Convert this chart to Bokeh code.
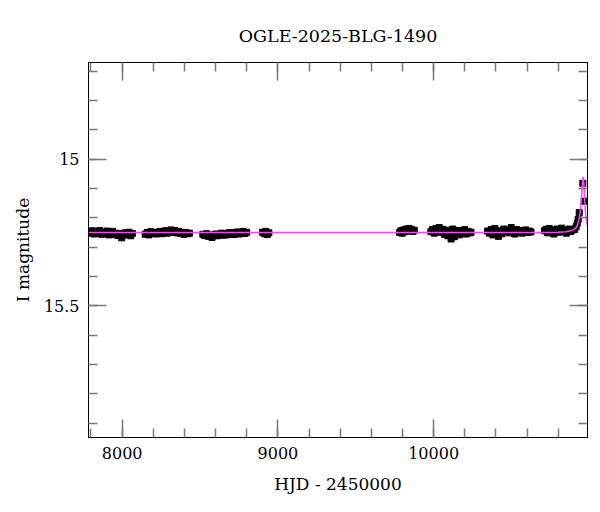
from bokeh.plotting import figure
from bokeh.models import Range1d, LinearAxis, SingleIntervalTicker, CustomJSTickFormatter
from bokeh.embed import file_html
from bokeh.resources import INLINE

title_text = "OGLE-2025-BLG-1490"
x_label = "HJD - 2450000"
y_label = "I magnitude"

# observations (HJD-2450000, I mag), by season
x1 = [7786, 7798, 7809, 7821, 7833, 7844, 7856, 7868, 7880, 7891, 7903, 7915, 7926, 7938, 7950, 7962, 7973, 7985, 7997, 8008, 8020, 8032, 8044, 8055, 8066]
y1 = [15.248, 15.252, 15.244, 15.255, 15.247, 15.251, 15.243, 15.256, 15.249, 15.253, 15.245, 15.258, 15.250, 15.246, 15.257, 15.252, 15.260, 15.254, 15.268, 15.259, 15.251, 15.256, 15.249, 15.261, 15.253]
x2 = [8148, 8160, 8172, 8183, 8195, 8207, 8219, 8231, 8243, 8254, 8266, 8278, 8290, 8302, 8314, 8325, 8337, 8349, 8361, 8373, 8385, 8396, 8408, 8420, 8432]
y2 = [15.256, 15.250, 15.258, 15.247, 15.253, 15.249, 15.255, 15.251, 15.246, 15.254, 15.250, 15.244, 15.252, 15.247, 15.241, 15.249, 15.243, 15.251, 15.246, 15.253, 15.249, 15.256, 15.250, 15.254, 15.252]
x3 = [8518, 8530, 8542, 8553, 8565, 8577, 8589, 8601, 8612, 8624, 8636, 8648, 8659, 8671, 8683, 8695, 8706, 8718, 8730, 8742, 8753, 8765, 8777, 8789, 8800]
y3 = [15.256, 15.260, 15.254, 15.263, 15.258, 15.267, 15.260, 15.255, 15.261, 15.257, 15.252, 15.259, 15.254, 15.258, 15.251, 15.256, 15.250, 15.257, 15.252, 15.248, 15.255, 15.250, 15.246, 15.253, 15.249]
x4 = [8902, 8912, 8922, 8932, 8942]
y4 = [15.249, 15.254, 15.246, 15.257, 15.251]
x5 = [9782, 9790, 9799, 9807, 9816, 9824, 9833, 9841, 9850, 9858, 9867, 9876]
y5 = [15.250, 15.244, 15.252, 15.241, 15.247, 15.238, 15.245, 15.236, 15.243, 15.239, 15.246, 15.242]
x6 = [9982, 9993, 10004, 10015, 10026, 10036, 10047, 10058, 10069, 10080, 10091, 10101, 10112, 10123, 10134, 10145, 10156, 10166, 10177, 10188, 10199, 10210, 10221, 10232, 10240]
y6 = [15.247, 15.240, 15.252, 15.236, 15.244, 15.233, 15.249, 15.239, 15.256, 15.242, 15.261, 15.247, 15.272, 15.238, 15.264, 15.250, 15.243, 15.258, 15.246, 15.253, 15.240, 15.255, 15.246, 15.251, 15.249]
x7 = [10346, 10358, 10369, 10381, 10393, 10404, 10416, 10428, 10439, 10451, 10463, 10474, 10486, 10498, 10509, 10521, 10533, 10544, 10556, 10568, 10579, 10591, 10603, 10614, 10625]
y7 = [15.245, 15.252, 15.240, 15.258, 15.236, 15.249, 15.263, 15.244, 15.254, 15.238, 15.247, 15.242, 15.251, 15.233, 15.246, 15.255, 15.240, 15.249, 15.243, 15.252, 15.246, 15.241, 15.250, 15.245, 15.248]
x8 = [10712, 10722, 10732, 10742, 10752, 10762, 10772, 10782, 10792, 10802, 10812, 10822, 10832, 10842, 10852, 10862, 10872, 10882, 10892, 10905, 10915, 10922, 10928, 10935, 10958, 10967]
y8 = [15.244, 15.239, 15.251, 15.236, 15.246, 15.241, 15.255, 15.243, 15.238, 15.249, 15.244, 15.235, 15.247, 15.241, 15.252, 15.243, 15.238, 15.246, 15.240, 15.240, 15.230, 15.218, 15.205, 15.182, 15.082, 15.143]

# microlensing model curve
model_t = [7784, 10700, 10800, 10850, 10880, 10900, 10915, 10925, 10935, 10942, 10948, 10953, 10957, 10960, 10963, 10966, 10970, 10975, 10980, 10988]
model_m = [15.250, 15.250, 15.249, 15.247, 15.244, 15.240, 15.233, 15.222, 15.200, 15.175, 15.140, 15.100, 15.070, 15.060, 15.068, 15.095, 15.140, 15.180, 15.205, 15.228]

FONT = "DejaVu Serif"

p = figure(width=592, height=504, output_backend="svg", toolbar_location=None,
           x_range=Range1d(7784, 10988), y_range=Range1d(15.949, 14.67),
           min_border_left=88, min_border_right=5, min_border_top=62, min_border_bottom=67,
           x_axis_type=None, y_axis_type=None)
p.background_fill_color = "white"
p.border_fill_color = "white"
p.outline_line_color = "black"
p.outline_line_width = 1
p.xgrid.visible = False
p.ygrid.visible = False

p.title.text = title_text
p.title.text_font = FONT
p.title.text_font_size = "17.5px"
p.title.text_font_style = "normal"
p.title.align = "center"
p.title.text_color = "black"
p.title.standoff = 34

xs = x1 + x2 + x3 + x4 + x5 + x6 + x7 + x8
ys = y1 + y2 + y3 + y4 + y5 + y6 + y7 + y8
p.scatter(xs, ys, marker="square", size=6, color="black")
p.line(model_t, model_m, line_color="#ff40ff", line_width=1.5)

num_fmt = CustomJSTickFormatter(code="return tick.toString();")
blank = CustomJSTickFormatter(code="return '';")

def style(ax, labelled):
    ax.major_tick_in = 18
    ax.major_tick_out = 0
    ax.minor_tick_in = 9
    ax.minor_tick_out = 0
    ax.major_tick_line_color = "#7a7a7a"
    ax.minor_tick_line_color = "#7a7a7a"
    ax.major_tick_line_width = 1.5
    ax.minor_tick_line_width = 1.5
    ax.axis_line_color = "black"
    ax.axis_line_width = 1
    ax.major_label_text_font = FONT
    ax.major_label_text_font_size = "16px" if labelled else "0px"
    ax.major_label_text_color = "black"
    ax.axis_label_text_font = FONT
    ax.axis_label_text_font_size = "17px"
    ax.axis_label_text_font_style = "normal"
    ax.axis_label_text_color = "black"

xb = LinearAxis(ticker=SingleIntervalTicker(interval=1000, num_minor_ticks=5), formatter=num_fmt,
                axis_label=x_label)
style(xb, True)
xb.major_label_standoff = 9
xb.axis_label_standoff = 12
p.add_layout(xb, "below")

yl = LinearAxis(ticker=SingleIntervalTicker(interval=0.5, num_minor_ticks=5), formatter=num_fmt,
                axis_label=y_label)
style(yl, True)
yl.major_label_standoff = 9
yl.axis_label_standoff = 8
p.add_layout(yl, "left")

xt = LinearAxis(ticker=SingleIntervalTicker(interval=1000, num_minor_ticks=5), formatter=blank)
style(xt, False)
xt.major_label_standoff = 0
p.add_layout(xt, "above")

yr = LinearAxis(ticker=SingleIntervalTicker(interval=0.5, num_minor_ticks=5), formatter=blank)
style(yr, False)
yr.major_label_standoff = 0
p.add_layout(yr, "right")

open("out.html", "w").write(file_html(p, INLINE))
